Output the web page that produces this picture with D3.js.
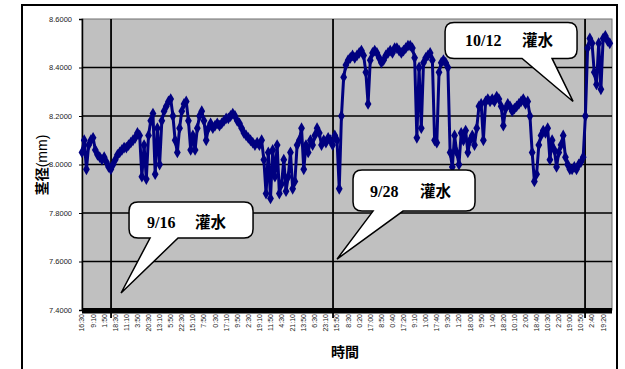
<!DOCTYPE html>
<html>
<head>
<meta charset="utf-8">
<script src="https://cdn.jsdelivr.net/npm/d3@7"></script>
<style>
  html, body { margin: 0; padding: 0; background: #fff; }
  svg { display: block; }
</style>
</head>
<body>
<div id="chart"></div>
<script>
// Stem diameter (mm), one reading every 20 logger samples
const stemDiameter = [
  8.05,8.10,7.98,8.08,8.10,8.11,8.06,8.04,8.03,8.02,
  8.03,8.01,7.99,7.98,8.00,8.02,8.04,8.05,8.06,8.07,
  8.07,8.08,8.09,8.10,8.11,8.13,8.12,7.95,8.08,7.94,
  8.12,8.18,8.21,7.96,8.15,8.00,8.18,8.22,8.24,8.26,
  8.27,8.20,8.10,8.05,8.15,8.22,8.25,8.26,8.18,8.06,
  8.12,8.06,8.15,8.20,8.22,8.18,8.10,8.15,8.17,8.15,
  8.16,8.17,8.16,8.17,8.18,
  8.19,8.19,8.20,8.21,8.20,
  8.18,8.17,8.15,8.13,8.12,8.11,8.10,8.09,8.08,8.09,
  8.08,8.10,8.02,7.88,8.05,7.86,8.06,7.95,8.08,7.88,
  7.92,8.02,7.89,7.95,8.05,7.90,7.93,8.08,8.10,8.15,
  7.98,8.08,8.05,8.10,8.08,8.12,8.15,8.13,8.08,8.10,
  8.09,8.11,8.10,8.08,8.12,8.10,7.90,8.20,8.36,8.41,
  8.43,8.44,8.45,8.44,8.45,8.46,8.47,8.45,8.38,8.25,
  8.43,8.46,8.47,8.46,8.44,8.42,8.43,8.45,8.46,8.47,
  8.46,8.48,8.48,8.47,8.46,8.47,8.48,8.49,8.49,8.48,
  8.44,8.11,8.40,8.15,8.42,8.44,8.45,8.46,8.43,8.10,
  8.09,8.38,8.42,8.43,8.42,8.40,8.05,7.99,8.12,8.05,
  8.00,8.13,8.10,8.14,8.05,8.10,8.12,8.08,8.15,8.24,
  8.25,8.10,8.26,8.27,8.26,8.27,8.26,8.28,8.27,8.24,
  8.16,8.23,8.25,8.24,
  8.22,8.23,8.24,8.25,8.26,8.27,8.25,8.26,8.20,8.05,
  7.93,7.96,8.08,8.12,8.14,8.13,8.15,8.02,8.10,8.06,
  7.99,8.05,8.08,8.12,8.03,8.00,7.98,7.98,7.99,7.98,
  8.00,8.01,8.03,8.20,8.48,8.52,8.50,8.38,8.33,8.50,
  8.31,8.52,8.53,8.51,8.50
];
const sampleStep = 20;      // logger samples between stored readings
const totalSamples = 4780;  // length of the time axis in samples

// Time labels, one every 100 samples
const timeLabels = ["16:30","9:10","1:50","18:30","11:10","3:50","20:30","13:10","5:50","22:30",
  "15:10","7:50","0:30","17:10","9:50","2:30","19:10","11:50","4:30","21:10",
  "13:50","6:30","23:10","15:50","8:30","0:20","17:00","8:50","0:40","17:20",
  "9:10","1:00","17:40","9:30","1:20","18:00","9:50","1:40","18:20","10:10",
  "2:00","18:40","10:30","2:20","19:00","10:50","2:40","19:20"];
const labelStep = 100;

const yTickValues = [7.4, 7.6, 7.8, 8.0, 8.2, 8.4, 8.6];

// Irrigation events: sample position, date, callout tip value
const irrigationAt = [262, 2264, 4537];
const irrigationDates = ["9/16", "9/28", "10/12"];
const calloutTipValue = [7.47, 7.61, 8.26];

const W = 625, H = 369;
const plot = { left: 82, right: 612, top: 19, bottom: 310 };

const svg = d3.select("#chart").append("svg")
  .attr("width", W).attr("height", H);

const x = d3.scaleLinear().domain([0, totalSamples]).range([plot.left, plot.right]);
const y = d3.scaleLinear().domain([7.4, 8.6]).range([plot.bottom, plot.top]);

// outer chart frame
svg.append("rect")
  .attr("x", 22).attr("y", 5).attr("width", 595).attr("height", 380)
  .attr("fill", "#fff").attr("stroke", "#000").attr("stroke-width", 2);

// plot area
svg.append("rect")
  .attr("x", plot.left).attr("y", plot.top)
  .attr("width", plot.right - plot.left).attr("height", plot.bottom - plot.top)
  .attr("fill", "#c0c0c0").attr("stroke", "#707070").attr("stroke-width", 1);

// horizontal gridlines
svg.append("g").selectAll("line")
  .data(yTickValues.filter(v => v > 7.4 && v < 8.6))
  .join("line")
  .attr("x1", plot.left).attr("x2", plot.right)
  .attr("y1", d => y(d)).attr("y2", d => y(d))
  .attr("stroke", "#000").attr("stroke-width", 1.3);

// y axis
const yAxis = d3.axisLeft(y).tickValues(yTickValues).tickFormat(d3.format(".4f"))
  .tickSize(3).tickPadding(7);
const gy = svg.append("g").attr("transform", `translate(${plot.left},0)`).call(yAxis);
gy.select(".domain").attr("stroke", "#000").attr("stroke-width", 1.5);
gy.selectAll(".tick line").attr("stroke", "#000");
gy.selectAll(".tick text")
  .attr("font-family", "Liberation Sans, Arial, sans-serif")
  .attr("font-size", 7.5).attr("fill", "#222");

// x axis: dense tick band along the bottom
svg.append("rect")
  .attr("x", plot.left).attr("y", plot.bottom - 2)
  .attr("width", plot.right - plot.left).attr("height", 5.5)
  .attr("fill", "#000");

const labelPos = timeLabels.map((t, i) => ({ t, p: i * labelStep }));
svg.append("g").selectAll("text")
  .data(labelPos)
  .join("text")
  .attr("transform", d => `translate(${x(d.p)},${plot.bottom + 4}) rotate(-90)`)
  .attr("text-anchor", "end")
  .attr("dy", "0.35em")
  .attr("font-family", "Liberation Sans, Arial, sans-serif")
  .attr("font-size", 7)
  .attr("fill", "#222")
  .text(d => d.t);

// irrigation markers
svg.append("g").selectAll("line")
  .data(irrigationAt)
  .join("line")
  .attr("x1", d => x(d)).attr("x2", d => x(d))
  .attr("y1", plot.top).attr("y2", plot.bottom + 8)
  .attr("stroke", "#000").attr("stroke-width", 1.8);

// series
const pts = stemDiameter.map((v, i) => [x(i * sampleStep), y(v)]);
const navy = "#000080";
svg.append("path")
  .attr("d", d3.line()(pts))
  .attr("fill", "none").attr("stroke", navy).attr("stroke-width", 3)
  .attr("stroke-linejoin", "round");
const diamond = d3.symbol().type(d3.symbolDiamond).size(40);
svg.append("g").selectAll("path")
  .data(pts)
  .join("path")
  .attr("transform", d => `translate(${d[0]},${d[1]})`)
  .attr("d", diamond)
  .attr("fill", navy);

// axis titles
svg.append("text")
  .attr("transform", `translate(42,165) rotate(-90)`)
  .attr("text-anchor", "middle")
  .attr("dy", "0.35em")
  .attr("font-family", "Noto Sans CJK JP, sans-serif")
  .attr("font-size", 14)
  .attr("fill", "#000")
  .call(t => {
    t.append("tspan").attr("font-weight", "bold").text("茎径");
    t.append("tspan").attr("font-family", "Liberation Sans, Arial, sans-serif").text("(mm)");
  });

svg.append("text")
  .attr("x", 345).attr("y", 357)
  .attr("text-anchor", "middle")
  .attr("font-family", "Noto Sans CJK JP, sans-serif")
  .attr("font-weight", "bold")
  .attr("font-size", 14)
  .attr("fill", "#000")
  .text("時間");

// callouts
const calloutLayout = [
  { dx: 8,    dy: -91, w: 124, h: 36, t1: 21, t2: 49,  tx: 18, ty: 26, cx: 66, off: 10 },
  { dx: 16,   dy: -89, w: 122, h: 41, t1: 20, t2: 50,  tx: 17, ty: 27, cx: 67, off: 4 },
  { dx: -128, dy: -79, w: 132, h: 36, t1: 77, t2: 107, tx: 20, ty: 24, cx: 77, off: -12 }
];

function calloutPath(bx, by, bw, bh, r, t1, t2, px, py) {
  return `M${bx + r},${by} H${bx + bw - r} Q${bx + bw},${by} ${bx + bw},${by + r} ` +
    `V${by + bh - r} Q${bx + bw},${by + bh} ${bx + bw - r},${by + bh} ` +
    `H${t2} L${px},${py} L${t1},${by + bh} ` +
    `H${bx + r} Q${bx},${by + bh} ${bx},${by + bh - r} V${by + r} Q${bx},${by} ${bx + r},${by} Z`;
}

irrigationAt.forEach((p, i) => {
  const L = calloutLayout[i];
  const px = x(p) + L.off, py = y(calloutTipValue[i]);
  const bx = px + L.dx, by = py + L.dy;
  const g = svg.append("g");
  g.append("path")
    .attr("d", calloutPath(bx, by, L.w, L.h, 9, bx + L.t1, bx + L.t2, px, py))
    .attr("fill", "#fff").attr("stroke", "#000").attr("stroke-width", 1.5);
  g.append("text")
    .attr("x", bx + L.tx).attr("y", by + L.ty)
    .attr("font-family", "Liberation Serif, Times New Roman, serif")
    .attr("font-weight", "bold").attr("font-size", 16).attr("fill", "#000")
    .text(irrigationDates[i]);
  g.append("text")
    .attr("x", bx + L.cx).attr("y", by + L.ty)
    .attr("font-family", "Noto Sans CJK JP, sans-serif")
    .attr("font-weight", "bold").attr("font-size", 15.5).attr("fill", "#000")
    .text("灌水");
});
</script>
</body>
</html>
